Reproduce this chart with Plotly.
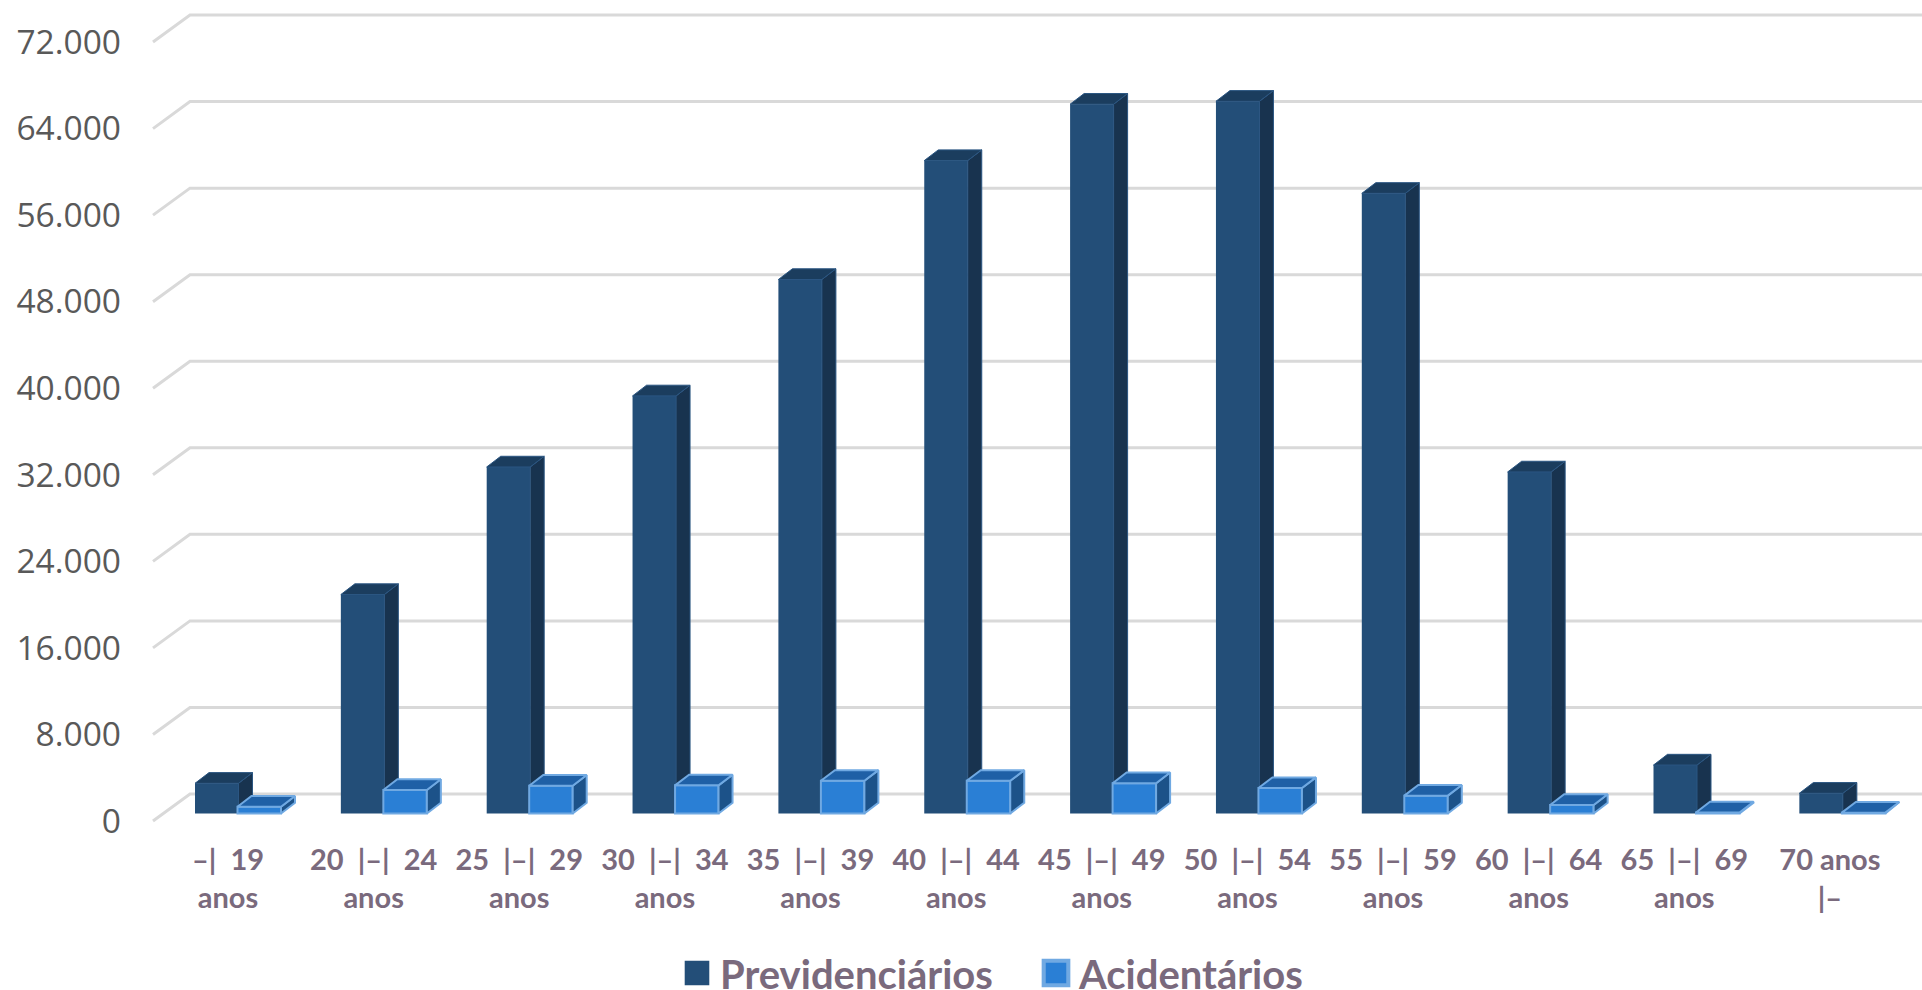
import plotly.graph_objects as go

# ---- data ----
categories = ["–|  19<br>anos", "20  |–|  24<br>anos", "25  |–|  29<br>anos", "30  |–|  34<br>anos",
              "35  |–|  39<br>anos", "40  |–|  44<br>anos", "45  |–|  49<br>anos", "50  |–|  54<br>anos",
              "55  |–|  59<br>anos", "60  |–|  64<br>anos", "65  |–|  69<br>anos", "70 anos<br>|–"]
previdenciarios = [2790, 20240, 32030, 38600, 49360, 60350, 65560, 65830, 57320, 31570, 4480, 1870]
acidentarios = [630, 2170, 2570, 2600, 3020, 3020, 2800, 2350, 1650, 790, 100, 80]
y_ticks = [0, 8000, 16000, 24000, 32000, 40000, 48000, 56000, 64000, 72000]
y_labels = ["0", "8.000", "16.000", "24.000", "32.000", "40.000", "48.000", "56.000", "64.000", "72.000"]

# ---- geometry (pixels → axis units) ----
W, H = 1922, 990
PLOT_L, PLOT_B = 130, 840
X_PX, Y_PX = 145.85, 86.55 / 8000
X0_PX, Y0_PX = 228, 821
x_range = [(PLOT_L - X0_PX) / X_PX, (W - X0_PX) / X_PX]
y_range = [-(PLOT_B - Y0_PX) / Y_PX, Y0_PX / Y_PX]

DEPTH_X, DEPTH_Y = 14 / X_PX, 10.7 / Y_PX
BASE = 7.5 / Y_PX
WALL_X, WALL_Y = (190 - X0_PX) / X_PX, 27 / Y_PX
FRONT_X = (153 - X0_PX) / X_PX
BAR_W = 43.5 / X_PX
OFF_DARK, OFF_LIGHT = (195 - X0_PX) / X_PX, (237.5 - X0_PX) / X_PX
LABEL_STEP = 0.9985

DARK = dict(front="#234e78", side="#18334f", top="#1b3d5e", edge="#2b5682")
LIGHT = dict(front="#2a7fd5", side="#1c5289", top="#1f60a6", edge="#70a9e2")


def faces(values, offset):
    side_x, side_y, top_x, top_y = [], [], [], []
    for i, v in enumerate(values):
        x0, x1 = i + offset, i + offset + BAR_W
        y0, y1 = BASE, BASE + v
        side_x += [x1, x1 + DEPTH_X, x1 + DEPTH_X, x1, x1, None]
        side_y += [y0, y0 + DEPTH_Y, y1 + DEPTH_Y, y1, y0, None]
        top_x += [x0, x0 + DEPTH_X, x1 + DEPTH_X, x1, x0, None]
        top_y += [y1, y1 + DEPTH_Y, y1 + DEPTH_Y, y1, y1, None]
    return side_x, side_y, top_x, top_y


fig = go.Figure()


def add_series(name, values, offset, col, xa, ya, lw, front_lw):
    fig.add_trace(go.Bar(name=name, x=list(range(len(values))), y=values, base=BASE, offset=offset,
                         width=BAR_W, marker=dict(color=col["front"], line=dict(color=col["edge"], width=front_lw)),
                         xaxis=xa, yaxis=ya))
    sx, sy, tx, ty = faces(values, offset)
    for fx, fy, c in ((sx, sy, col["side"]), (tx, ty, col["top"])):
        fig.add_trace(go.Scatter(x=fx, y=fy, mode="lines", fill="toself", fillcolor=c,
                                 line=dict(color=col["edge"], width=lw), showlegend=False,
                                 hoverinfo="skip", xaxis=xa, yaxis=ya))


add_series("Previdenciários", previdenciarios, OFF_DARK, DARK, "x", "y", 1, 0)
add_series("Acidentários", acidentarios, OFF_LIGHT, LIGHT, "x2", "y2", 2, 2)

shapes = []
for t in y_ticks:
    path = f"M {FRONT_X} {t} L {WALL_X} {t + WALL_Y} L {x_range[1]} {t + WALL_Y}"
    shapes.append(dict(type="path", path=path, xref="x", yref="y", layer="below",
                       line=dict(color="#d9d9d9", width=3)))

fig.update_layout(
    width=W, height=H, autosize=False,
    margin=dict(l=PLOT_L, r=0, t=0, b=H - PLOT_B, pad=0),
    paper_bgcolor="white", plot_bgcolor="white",
    barmode="overlay", shapes=shapes,
    xaxis=dict(range=x_range, tickmode="array", tickvals=[i * LABEL_STEP for i in range(len(categories))],
               ticktext=categories, showgrid=False, zeroline=False, showline=False, ticks="",
               tickfont=dict(family="Lato", size=29, color="#7a6a7d", weight=700), tickangle=0, automargin=False),
    yaxis=dict(range=y_range, tickmode="array", tickvals=y_ticks, ticktext=y_labels,
               showgrid=False, zeroline=False, showline=False, ticks="", ticklabelstandoff=8,
               tickfont=dict(family="Open Sans", size=33.5, color="#595959"), automargin=False),
    xaxis2=dict(range=x_range, overlaying="x", visible=False),
    yaxis2=dict(range=y_range, overlaying="y", visible=False),
    legend=dict(orientation="h", x=674 / W, xanchor="left", y=1 - 973 / H, yanchor="middle",
                yref="container", xref="container", entrywidth=308, entrywidthmode="pixels", itemwidth=36,
                font=dict(family="Lato", size=40, color="#7a6a7d", weight=700),
                itemclick=False, itemdoubleclick=False),
)

post = """
document.body.style.margin = '0';
var gd = document.getElementById('{plot_id}');
function scaleKeys() {
  gd.querySelectorAll('.legendpoints path').forEach(function (p) {
    if (p.dataset.base === undefined) p.dataset.base = p.getAttribute('transform') || '';
    p.setAttribute('transform', p.dataset.base + ' scale(2.05)');
  });
}
scaleKeys();
gd.on('plotly_afterplot', scaleKeys);
"""
fig.write_html("out.html", post_script=post, config=dict(displayModeBar=False))
